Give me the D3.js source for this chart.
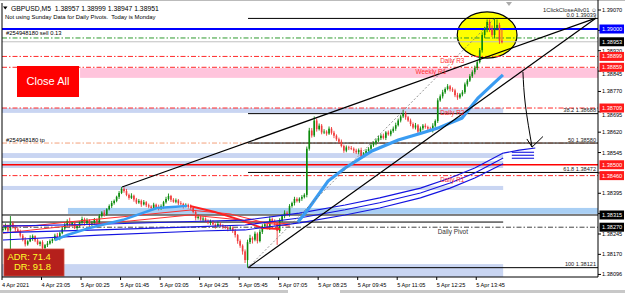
<!DOCTYPE html>
<html>
<head>
<meta charset="utf-8">
<script src="https://cdn.jsdelivr.net/npm/d3@7"></script>
<style>
  body { margin: 0; background: #fff; }
  svg  { display: block; }
  text { font-family: "Liberation Sans", Arial, sans-serif; }
</style>
</head>
<body>
<svg id="chart" width="625" height="293"></svg>
<script>
// ---- data -------------------------------------------------------------
// candle values are pips above BASE (1.38000), one per M5 bar
const BASE = 1.38000;
const firstOpen = 26.0;
const closes = [
  26.3,27.5,25.8,28.5,27.0,26.2,25.6,23.9,22.4,20.7,
  21.8,22.9,23.7,22.1,20.8,21.5,19.3,20.4,21.0,21.9,
  22.6,23.9,23.1,24.8,26.5,27.8,29.3,27.9,28.6,26.7,
  27.4,28.8,30.0,28.4,29.6,27.9,28.5,29.8,28.9,31.1,
  32.4,31.7,33.6,34.8,35.9,36.7,38.2,39.6,41.1,40.3,
  38.9,37.8,38.6,37.2,36.1,36.7,35.4,36.2,35.1,34.6,
  34.1,35.3,34.4,33.8,34.8,36.2,37.4,38.5,37.1,36.4,
  36.9,35.8,35.6,34.7,35.2,34.5,34.1,32.6,30.4,30.9,
  29.8,30.2,29.3,28.6,29.1,28.0,27.4,28.2,27.6,27.1,
  27.0,26.3,26.8,25.6,24.1,21.9,20.2,18.1,14.9,21.5,
  23.0,22.4,24.6,21.9,25.3,27.4,28.1,26.9,30.0,29.2,
  28.4,25.6,29.5,31.1,32.3,31.6,34.8,35.9,37.4,36.6,
  37.5,38.1,38.9,55.9,62.6,60.8,66.3,63.1,64.4,61.9,
  62.2,61.5,63.3,61.8,60.7,59.4,58.5,56.9,55.2,56.4,
  56.1,55.9,55.2,54.6,55.4,53.0,54.2,55.1,55.9,57.2,
  58.1,58.9,59.8,60.7,59.9,61.9,61.2,62.4,63.3,64.6,
  66.3,67.8,68.9,67.5,66.3,65.0,63.7,64.5,62.2,63.4,
  64.4,63.9,63.3,62.8,64.4,66.1,73.7,75.2,76.7,77.9,
  78.9,77.8,77.4,75.6,74.8,75.9,76.7,79.6,81.0,82.6,
  84.1,85.6,87.8,92.2,97.8,99.6,102.6,99.9,97.8,100.4,101.5,95.7,95.1
];
const wickUp = [
  0.5,0.9,0.4,2.6,0.7,0.3,0.8,0.5,0.6,0.9, 0.4,1.1,0.6,0.3,0.8,0.5,0.7,0.4,0.9,0.6,
  0.3,0.7,1.0,0.5,0.4,0.8,0.6,1.2,0.5,0.7, 0.6,0.4,0.9,0.5,0.7,0.3,0.8,0.6,0.4,0.7,
  0.5,0.9,0.4,0.6,0.8,0.5,0.4,0.7,0.7,0.6, 0.8,0.5,0.9,0.4,0.6,0.7,0.5,0.8,0.4,0.6,
  0.5,0.7,0.4,0.9,0.6,0.5,0.8,0.9,0.4,0.6, 0.7,0.5,0.8,0.4,0.6,0.5,0.9,0.4,0.6,0.7,
  0.5,0.8,0.4,0.6,0.7,0.5,0.4,0.9,0.6,0.5, 0.7,0.4,0.6,0.5,0.8,0.4,0.6,0.5,0.7,0.9,
  1.2,0.6,0.8,0.5,0.9,0.7,0.6,0.8,1.0,0.5, 0.7,0.6,0.8,0.5,0.9,0.6,0.7,0.5,0.8,0.6,
  0.5,0.7,0.6,0.8,1.0,0.9,1.5,0.7,0.8,0.6, 0.9,0.5,0.8,0.6,0.7,0.5,0.6,0.8,0.5,0.7,
  0.6,0.8,0.5,0.7,0.6,0.9,0.5,0.7,0.6,0.8, 0.5,0.7,0.9,0.6,0.8,0.5,0.7,0.6,0.8,0.9,
  0.7,0.6,1.4,0.8,0.5,0.7,0.6,0.9,0.5,0.7, 0.6,0.8,0.5,0.7,0.9,0.6,0.8,0.7,0.9,0.6,
  0.8,0.5,0.7,0.6,0.9,0.5,0.8,0.7,0.6,0.8, 0.7,0.9,0.6,0.8,1.0,1.2,0.9,0.9,1.4,3.5,2.0,0.8,4.2
];
const wickDn = [
  0.6,0.4,0.8,6.9,0.5,0.9,0.4,0.7,0.6,0.8, 0.5,0.3,0.9,0.6,0.4,0.8,1.1,0.5,0.7,0.4,
  0.8,0.5,0.6,0.9,0.4,0.7,0.5,0.8,0.6,0.4, 0.7,0.5,0.6,0.8,0.4,0.9,0.5,0.7,0.6,0.5,
  0.6,0.8,0.5,0.4,0.7,0.6,0.5,0.8,0.4,0.6, 0.5,0.7,0.4,0.8,0.6,0.5,0.9,0.4,0.7,0.6,
  0.8,0.5,0.7,0.6,0.4,0.9,0.5,0.6,0.8,0.4, 0.6,0.7,0.5,0.8,0.4,0.6,0.7,0.5,0.9,0.6,
  0.4,0.7,0.6,0.5,0.8,0.4,0.9,0.6,0.5,0.7, 0.6,0.8,0.5,0.7,0.9,1.0,0.8,1.2,1.1,2.8,
  0.7,1.4,0.6,0.9,0.5,0.8,0.6,0.7,0.9,0.6, 0.8,5.1,0.7,0.6,0.8,0.5,0.7,0.6,0.9,0.5,
  0.6,0.8,0.5,0.9,0.7,0.8,0.6,0.9,0.5,0.7, 0.6,0.8,0.5,0.7,0.9,0.6,0.7,0.5,0.8,0.6,
  0.7,0.5,0.9,0.6,0.8,0.7,0.5,0.6,0.8,0.5, 0.6,0.9,0.5,0.7,0.6,0.8,0.5,0.7,0.6,0.8,
  0.5,0.7,0.6,0.9,0.5,0.8,0.6,0.7,0.9,0.5, 0.7,0.6,0.8,0.5,0.9,0.6,0.7,0.5,0.8,0.6,
  0.5,0.8,0.6,0.7,0.9,0.5,0.7,0.6,0.8,0.5, 0.6,0.8,0.7,0.5,0.9,1.2,0.8,1.0,0.7,1.3,0.9,1.2,0.4
];

// time axis
const timeBars   = [0, 16, 32, 48, 64, 80, 96, 112, 128, 144, 160, 176, 192];
const timeLabels = ['4 Apr 2021', '4 Apr 23:05', '5 Apr 00:25', '5 Apr 01:45', '5 Apr 03:05',
                    '5 Apr 04:25', '5 Apr 05:45', '5 Apr 07:05', '5 Apr 08:25', '5 Apr 09:45',
                    '5 Apr 11:05', '5 Apr 12:25', '5 Apr 13:45'];

// price axis
const priceTicks = [1.39070, 1.38995, 1.38920, 1.38845, 1.38770, 1.38695, 1.38620,
                    1.38545, 1.38470, 1.38395, 1.38320, 1.38245, 1.38170, 1.38096];
const markPrices = [1.39000, 1.38953, 1.38899, 1.38859, 1.38709, 1.38500, 1.38460, 1.38315, 1.38270];
const markKinds  = ['blue', 'black', 'red', 'red', 'red', 'red', 'red', 'black', 'black'];

// pivots
const pivotNames  = ['Daily R3', 'Weekly R1', 'Daily R2', 'Daily R1', 'Daily Pivot'];
const pivotPrices = [1.38899, 1.38859, 1.38709, 1.38460, 1.38270];
const pivotLabelBar = [177, 167, 177, 177, 176];

// order lines
const orderTicket = '#254948180';
const sellPrice   = 1.38967, sellLots = 0.13;
const tpPrice     = 1.38580;

// other horizontal levels
const bidPrice   = 1.38953;
const roundPrice = 1.39000;
const redLevel   = 1.38500;
const supportA   = 1.38315;
const supportB   = 1.38289;

// zones: top, bottom price, from/to bar
const zoneHi    = [1.38856, 1.38709, 1.38543, 1.38514, 1.38422, 1.38341, 1.38134];
const zoneLo    = [1.38820, 1.38691, 1.38525, 1.38488, 1.38407, 1.38319, 1.38080];
const zoneFrom  = [31.2, -1, -1, -1, -1, 26.3, -1];
const zoneTo    = [241, 202.5, 202.5, 202.5, 202.5, 241, 202.5];
const zoneColor = ['#ffc4dc', '#c9d5f2', '#c9d5f2', '#c9d5f2', '#c9d5f2', '#a9cff4', '#c9d5f2'];

// fibonacci
const fibHigh = 1.39039, fibLow = 1.38121;
const fibRatios = [0, 38.2, 50, 61.8, 100];
const fibLowBar = 99.2, fibHighBar = 199;

// trend lines [bar, pips]
const trendUpper = [[48.2, 41.8], [240, 104.0]];
const trendLower = [[99.2, 12.1], [240, 104.0]];
const arrowPath  = [[210.5, 84.2], [211.5, 72], [214.2, 56.5]];
const arrowHead  = [[212.1, 59.5], [214.2, 56.5], [218.6, 60.4]];

// highlight ellipse [bar, pips], radii in bars / pips
const ellipseC = [196, 97.8], ellipseR = [12.1, 8.5];

// light blue MA (two visible pieces)
const lbBars1 = [21, 26, 35, 48.6, 62.3, 74.5];
const lbVals1 = [22.3, 24.1, 26.7, 29.7, 34.1, 34.8];
const lbBars2 = [119.4, 123, 131.6, 138.5, 149.4, 160, 169.6, 176.1, 185.8, 192.3, 198, 202.4];
const lbVals2 = [28.9, 33.0, 44.0, 48.8, 55.1, 59.1, 61.7, 63.5, 67.2, 74.6, 79.4, 83.1];

// blue envelope
const envBars = [0, 39, 80, 98, 120, 138.5, 152.5, 169, 181, 191, 202.5];
const envA = [27.4, 28.1, 29.2, 29.6, 32.2, 35.2, 37.8, 41.4, 45.1, 48.8, 54.3];
const envB = [25.0, 26.0, 27.2, 27.8, 30.4, 33.4, 36.0, 39.6, 43.3, 47.0, 52.5];
const envC = [22.3, 24.1, 25.6, 26.0, 28.6, 31.5, 34.1, 37.8, 41.4, 45.1, 50.4];
const envFwdBars = [202.5, 209, 215.5];
const envFwdVals = [54.3, 55.4, 56.2];
const envStubVals = [54.6, 53.5, 52.4];
const envStubBars = [206, 215];

// red MAs
const redThickBars = [75.7, 85.8, 96, 104.9, 112.1];
const redThickVals = [34.8, 32.6, 29.7, 26.7, 26.3];
const red1Bars = [0, 11, 26, 51.4, 75.7, 91.9, 104.9, 116.2];
const red1Vals = [27.7, 27.4, 28.9, 31.1, 33.3, 31.9, 28.9, 28.2];
const red2Bars = [0, 11, 26, 51.4, 75.7, 96, 116.2];
const red2Vals = [24.8, 25.9, 27.4, 29.3, 31.5, 29.7, 27.4];

const adr = 71.4, dr = 91.8;

// ---- scales -----------------------------------------------------------
const plot = { left: 2, right: 598, top: 3, bottom: 277 };
const x  = d3.scaleLinear().domain([0, 240]).range([3, 595.8]);
const y  = d3.scaleLinear().domain([1.380866, 1.390958]).range([plot.bottom, plot.top]);
const py = v => y(BASE + v / 10000);
const fmt = p => p.toFixed(5);

const svg = d3.select('#chart');

svg.append('defs').append('clipPath').attr('id', 'plotClip')
  .append('rect')
  .attr('x', plot.left).attr('y', plot.top)
  .attr('width', plot.right - plot.left).attr('height', plot.bottom - plot.top);

const g = svg.append('g').attr('clip-path', 'url(#plotClip)');

const hline = (p, x0, x1, color, width, dash) => g.append('line')
  .attr('x1', x0).attr('x2', x1)
  .attr('y1', y(p)).attr('y2', y(p))
  .attr('stroke', color).attr('stroke-width', width)
  .attr('stroke-dasharray', dash || null);

const DASHDOT = '5,2,1.5,2';

// ---- background objects -----------------------------------------------
g.append('ellipse')
  .attr('cx', x(ellipseC[0])).attr('cy', py(ellipseC[1]))
  .attr('rx', x(ellipseC[0] + ellipseR[0]) - x(ellipseC[0]))
  .attr('ry', py(ellipseC[1] - ellipseR[1]) - py(ellipseC[1]))
  .attr('fill', '#ffff00').attr('stroke', '#000').attr('stroke-width', 1.2);

zoneHi.forEach((hi, k) => {
  g.append('rect')
    .attr('x', x(zoneFrom[k])).attr('width', x(zoneTo[k]) - x(zoneFrom[k]))
    .attr('y', y(hi)).attr('height', y(zoneLo[k]) - y(hi))
    .attr('fill', zoneColor[k]);
});

// ---- horizontal levels --------------------------------------------------
hline(roundPrice, plot.left, plot.right, '#0000ff', 1.8);
hline(sellPrice, plot.left, plot.right, '#2e9a2e', 1, DASHDOT);
hline(bidPrice, plot.left, plot.right, '#c0c0c0', 1);
pivotPrices.forEach((p, k) => {
  let isPivot = pivotNames[k] === 'Daily Pivot';
  hline(p, plot.left, plot.right, isPivot ? '#444' : '#ff2a2a', 1, DASHDOT);
});
hline(tpPrice, plot.left, plot.right, '#f3a07a', 1, DASHDOT);
hline(redLevel, plot.left, plot.right, '#ff0000', 1.3);
hline(supportA, plot.left, plot.right, '#000', 1);
hline(supportB, plot.left, x(202.5), '#000', 1);

// fibonacci levels
fibRatios.forEach(r => {
  let p = fibHigh - r / 100 * (fibHigh - fibLow);
  hline(p, x(fibLowBar), plot.right, '#000', 1);
});

// ---- candles ------------------------------------------------------------
let bars = closes.map((c, i) => {
  let o = i ? closes[i - 1] : firstOpen;
  return { i, o, c, h: Math.max(o, c) + wickUp[i], l: Math.min(o, c) - wickDn[i] };
});

let candle = g.append('g').selectAll('g').data(bars).enter().append('g')
  .attr('stroke', d => d.c >= d.o ? '#0b8a0b' : '#f03a3a')
  .attr('fill',   d => d.c >= d.o ? '#0b8a0b' : '#f03a3a');

candle.append('line')
  .attr('x1', d => x(d.i)).attr('x2', d => x(d.i))
  .attr('y1', d => py(d.h)).attr('y2', d => py(d.l))
  .attr('stroke-width', 0.9);

candle.append('rect')
  .attr('x', d => x(d.i) - 0.8).attr('width', 1.6)
  .attr('y', d => py(Math.max(d.o, d.c)))
  .attr('height', d => Math.max(0.8, Math.abs(py(d.o) - py(d.c))))
  .attr('stroke', 'none');

// ---- indicator lines --------------------------------------------------------
const line = d3.line().x(d => x(d[0])).y(d => py(d[1]));
const zip  = (a, b) => a.map((v, k) => [v, b[k]]);
const path = (pts, color, width, dash) => g.append('path')
  .attr('d', line(pts)).attr('fill', 'none')
  .attr('stroke', color).attr('stroke-width', width)
  .attr('stroke-dasharray', dash || null);

path(zip(red2Bars, red2Vals), '#ff3030', 1);
path(zip(red1Bars, red1Vals), '#ff3030', 1);
path(zip(redThickBars, redThickVals), '#ff2020', 2);

[envA, envB, envC].forEach(env => path(zip(envBars, env), '#1414e0', 1.1));
path(zip(envFwdBars, envFwdVals), '#1414e0', 1.1);
envStubVals.forEach(v => path(envStubBars.map(b => [b, v]), '#1414e0', 1.1));

path(zip(lbBars1, lbVals1), '#3a9cf2', 2.6);
path(zip(lbBars2, lbVals2), '#3a9cf2', 3.2);

// ---- drawn objects ------------------------------------------------------------
path(trendUpper, '#000', 1.2);
path(trendLower, '#000', 1.2);
path([[fibLowBar, (fibLow - BASE) * 1e4], [fibHighBar, (fibHigh - BASE) * 1e4]], '#777', 0.8, '2,2');
g.append('path')
  .attr('d', d3.line().curve(d3.curveNatural).x(d => x(d[0])).y(d => py(d[1]))(arrowPath))
  .attr('fill', 'none').attr('stroke', '#000').attr('stroke-width', 1);
path(arrowHead, '#000', 1);

// ---- texts on chart -----------------------------------------------------------
let txt = (tx, ty, s, size, color, anchor) => svg.append('text')
  .attr('x', tx).attr('y', ty).text(s)
  .attr('font-size', size).attr('fill', color || '#000')
  .attr('text-anchor', anchor || 'start');

pivotNames.forEach((n, k) => {
  let isPivot = n === 'Daily Pivot';
  txt(x(pivotLabelBar[k]), y(pivotPrices[k]) + 6.5, n, 6.4, isPivot ? '#333' : '#ff3030');
});

fibRatios.forEach(r => {
  let p = fibHigh - r / 100 * (fibHigh - fibLow);
  let lab = (r === 0 ? '0.0' : String(r)) + ' ' + fmt(p);
  txt(596, y(p) - 1.5, lab, 5.6, '#222', 'end');
});

let lastBar = bars[bars.length - 1];
svg.append('path').attr('d', 'M3,6.5 L7.5,6.5 L5.25,9.5 Z').attr('fill', '#000');
txt(11, 10.5, 'GBPUSD,M5  ' + [lastBar.o, lastBar.h, lastBar.l, lastBar.c].map(v => fmt(BASE + v / 1e4)).join(' '), 6.8)
  .attr('xml:space', 'preserve');
txt(5, 18.5, 'Not using Sunday Data for Daily Pivots.  Today is Monday', 5.9).attr('xml:space', 'preserve');
txt(6, y(sellPrice) - 2.5, orderTicket + ' sell ' + sellLots.toFixed(2), 5.8);
txt(6, y(tpPrice) - 1.5, orderTicket + ' tp', 5.8);
txt(597, 12, '1ClickCloseAllv01 \u263A', 5.8, '#222', 'end');

// Close All button
svg.append('rect').attr('x', 17).attr('y', 66).attr('width', 62).attr('height', 31).attr('fill', '#ff0000');
txt(48, 85, 'Close All', 11, '#fff', 'middle');

// ADR box
svg.append('rect').attr('x', 4).attr('y', 249).attr('width', 60).attr('height', 27)
  .attr('fill', '#b5201c').attr('stroke', '#d04a3a').attr('stroke-width', 0.8);
txt(7.5, 259.5, 'ADR: ' + adr.toFixed(1), 9.4, '#ffff2a');
txt(14, 270, 'DR: ' + dr.toFixed(1), 9.4, '#ffff2a');

// ---- frame and axes -----------------------------------------------------------
svg.append('line').attr('x1', 0).attr('x2', 625).attr('y1', 0.5).attr('y2', 0.5).attr('stroke', '#bbb');
svg.append('path')
  .attr('d', `M${plot.left},${plot.top} V${plot.bottom} H${plot.right} V0`)
  .attr('fill', 'none').attr('stroke', '#000').attr('stroke-width', 1);
svg.append('path').attr('d', 'M506,2 L512,2 L509,6 Z').attr('fill', '#aaa');

// price scale: grid labels that sit under a marker box are hidden,
// ones that only touch it are pushed just below the box
const BOX_H = 9;
priceTicks.forEach(p => {
  let ty = y(p);
  svg.append('line').attr('x1', plot.right).attr('x2', plot.right + 3)
    .attr('y1', ty).attr('y2', ty).attr('stroke', '#000');
  let near = markPrices.map(m => ty - y(m)).filter(d => Math.abs(d) < BOX_H);
  if (near.some(d => Math.abs(d) < 3)) return;
  let base = ty + 2;
  near.filter(d => d > 0).forEach(d => { base = Math.max(base, ty - d + BOX_H / 2 + 4.4); });
  txt(602, base, fmt(p), 5.6, '#000');
});
const boxColor = { blue: '#0000ff', black: '#000', red: '#ff1a1a' };
markPrices.forEach((p, k) => {
  svg.append('rect').attr('x', 599.5).attr('y', y(p) - BOX_H / 2).attr('width', 24.5).attr('height', BOX_H)
    .attr('fill', boxColor[markKinds[k]]);
  txt(602, y(p) + 2, fmt(p), 5.6, '#fff');
});

// time scale
timeBars.forEach((b, k) => {
  svg.append('line').attr('x1', x(b) - 1).attr('x2', x(b) - 1)
    .attr('y1', plot.bottom).attr('y2', plot.bottom + 3).attr('stroke', '#000');
  txt(x(b) - 1, 286.5, timeLabels[k], 5.6, '#000');
});

// bottom tab strip
svg.append('rect').attr('x', 0).attr('y', 290).attr('width', 625).attr('height', 3).attr('fill', '#c8c8c8');
svg.append('rect').attr('x', 288).attr('y', 290).attr('width', 52).attr('height', 3).attr('fill', '#fff');
</script>
</body>
</html>
